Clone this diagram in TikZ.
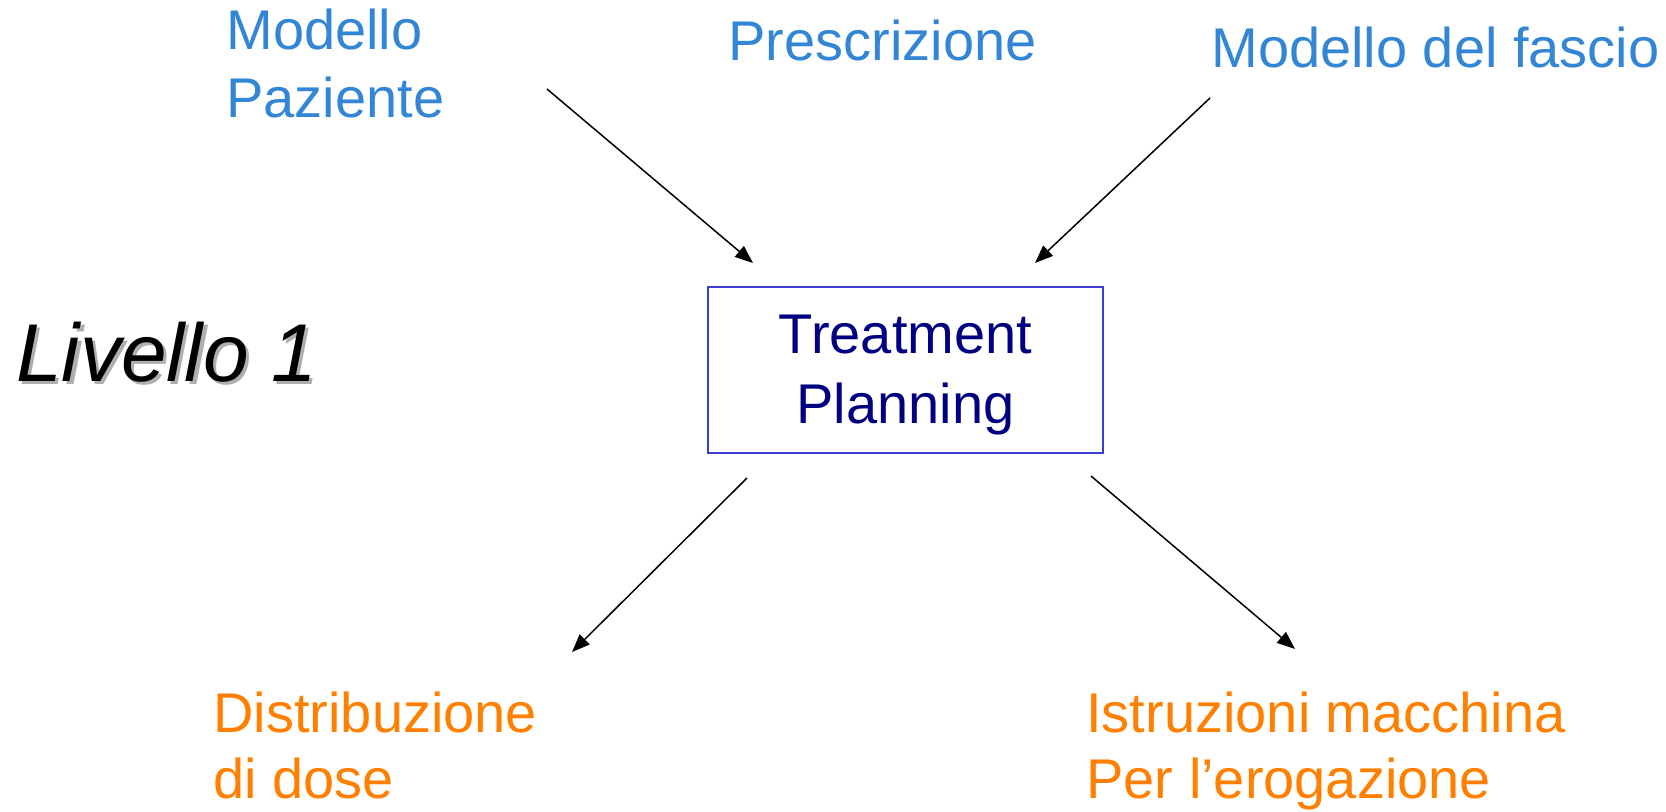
\documentclass[tikz,border=0pt]{standalone}
\usepackage{fontspec}
\setmainfont{Liberation Sans}
\usetikzlibrary{arrows.meta}
\definecolor{inblue}{RGB}{51,133,214}
\definecolor{outorange}{RGB}{255,128,0}
\definecolor{boxnavy}{RGB}{0,0,128}
\definecolor{boxedge}{RGB}{60,60,210}
\definecolor{shadowgray}{RGB}{175,175,175}
\tikzset{
  intext/.style={anchor=north west, inner sep=0pt, align=left, text=inblue,
    font=\fontsize{28pt}{34pt}\selectfont},
  outtext/.style={anchor=north west, inner sep=0pt, align=left, text=outorange,
    font=\fontsize{28pt}{33pt}\selectfont},
  planbox/.style={draw=boxedge, line width=0.8pt, minimum width=197.5pt,
    minimum height=83pt, align=center, text=boxnavy, inner sep=0pt,
    font=\fontsize{28pt}{35pt}\selectfont},
  flow/.style={draw=black, line width=0.75pt, -{Triangle[length=9pt,width=7pt]}}
}
\begin{document}
\begin{tikzpicture}[x=0.5pt,y=-0.5pt]
\useasboundingbox (0,0) rectangle (1666,811);
% inputs
\node[intext] (paziente) at (226,9) {Modello\\Paziente};
\node[intext] (prescr) at (728,20) {Prescrizione};
\node[intext] (fascio) at (1211,27) {Modello del fascio};
% central box
\node[planbox] (tp) at (905.5,370) {\rule{0pt}{24pt}Treatment\\Planning};
% level label
\node[anchor=base west, inner sep=0pt, font=\fontsize{41pt}{47pt}\selectfont\itshape]
  (livello) at (16,381)
  {\rlap{\kern1.6pt\raisebox{-1.6pt}{\color{shadowgray}Livello 1}}Livello 1};
% outputs
\node[outtext] (dose) at (213,692) {Distribuzione\\di dose};
\node[outtext] (istr) at (1086,692) {Istruzioni macchina\\Per l’erogazione};
% arrow ends
\coordinate (a1s) at (547,89);
\coordinate (a1e) at (753,263);
\coordinate (a2s) at (1210,98);
\coordinate (a2e) at (1035,263);
\coordinate (a3s) at (747,478);
\coordinate (a3e) at (572,652);
\coordinate (a4s) at (1091,476);
\coordinate (a4e) at (1295,649);
\draw[flow] (a1s) -- (a1e);
\draw[flow] (a2s) -- (a2e);
\draw[flow] (a3s) -- (a3e);
\draw[flow] (a4s) -- (a4e);
\end{tikzpicture}
\end{document}
